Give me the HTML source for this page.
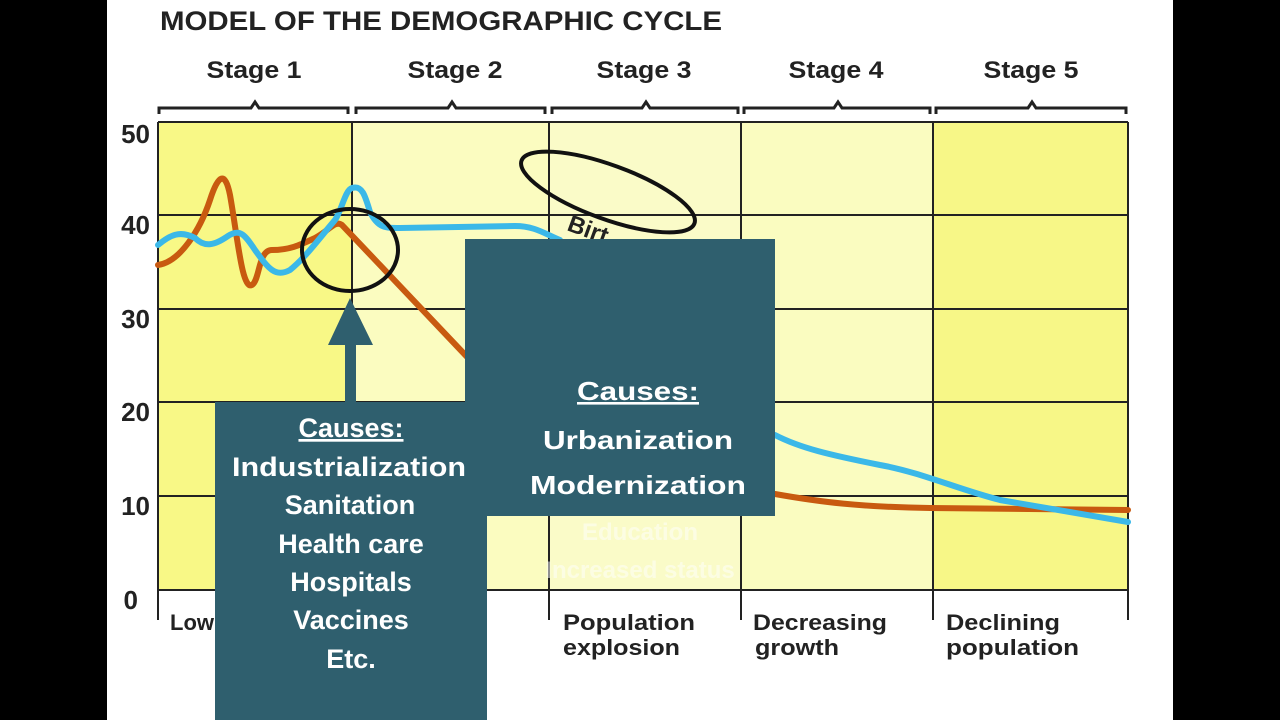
<!DOCTYPE html>
<html><head><style>body{margin:0;background:#000}svg{display:block}</style></head><body>
<svg width="1280" height="720" xmlns="http://www.w3.org/2000/svg" font-family="Liberation Sans, sans-serif">
<rect x="107" y="0" width="1066" height="720" fill="#fff"/>
<text x="160" y="30" font-size="27" font-weight="bold" fill="#222" textLength="562" lengthAdjust="spacingAndGlyphs">MODEL OF THE DEMOGRAPHIC CYCLE</text>
<g font-size="24" font-weight="bold" fill="#222" text-anchor="middle">
<text x="254" y="78" textLength="95" lengthAdjust="spacingAndGlyphs">Stage 1</text><text x="455" y="78" textLength="95" lengthAdjust="spacingAndGlyphs">Stage 2</text><text x="644" y="78" textLength="95" lengthAdjust="spacingAndGlyphs">Stage 3</text><text x="836" y="78" textLength="95" lengthAdjust="spacingAndGlyphs">Stage 4</text><text x="1031" y="78" textLength="95" lengthAdjust="spacingAndGlyphs">Stage 5</text>
</g>
<g fill="none" stroke="#222" stroke-width="3">
<path d="M159,114 v-6 h92 l4,-6 l4,6 h89 v6"/><path d="M356,114 v-6 h92 l4,-6 l4,6 h89 v6"/>
<path d="M552,114 v-6 h90 l4,-6 l4,6 h88 v6"/><path d="M744,114 v-6 h90 l4,-6 l4,6 h88 v6"/>
<path d="M936,114 v-6 h92 l4,-6 l4,6 h90 v6"/>
</g>
<rect x="158" y="122" width="194" height="468" fill="#f8f886"/>
<rect x="352" y="122" width="197" height="468" fill="#fbfcc0"/>
<rect x="549" y="122" width="192" height="468" fill="#fafbc8"/>
<rect x="741" y="122" width="192" height="468" fill="#fafcc0"/>
<rect x="933" y="122" width="195" height="468" fill="#f7f787"/>
<g stroke="#222" stroke-width="2">
<line x1="158" y1="122" x2="1128" y2="122"/><line x1="158" y1="215" x2="1128" y2="215"/>
<line x1="158" y1="309" x2="1128" y2="309"/><line x1="158" y1="402" x2="1128" y2="402"/>
<line x1="158" y1="496" x2="1128" y2="496"/><line x1="158" y1="590" x2="1128" y2="590"/>
<line x1="158" y1="122" x2="158" y2="620"/><line x1="352" y1="122" x2="352" y2="620"/>
<line x1="549" y1="122" x2="549" y2="620"/><line x1="741" y1="122" x2="741" y2="620"/>
<line x1="933" y1="122" x2="933" y2="620"/><line x1="1128" y1="122" x2="1128" y2="620"/>
</g>
<g font-size="26" font-weight="bold" fill="#222" text-anchor="end">
<text x="150" y="143">50</text><text x="150" y="234">40</text><text x="150" y="328">30</text><text x="150" y="421">20</text><text x="150" y="515">10</text><text x="138" y="609">0</text>
</g>
<g fill="none" stroke-width="6" stroke-linecap="round">
<path stroke="#c85a10" d="M158,265 C180,262 200,230 210,200 C218,175 225,170 230,195 C238,240 242,290 252,285 C260,280 258,250 272,250 C290,250 300,245 315,238 C330,230 335,220 342,225 L470,360"/>
<path stroke="#c85a10" d="M775,494 C820,502 860,507 930,508 L1128,510"/>
<path stroke="#3bb8e8" d="M158,245 C170,235 180,230 195,238 C205,248 215,245 228,236 C240,228 245,235 255,250 C268,268 275,278 290,270 C305,258 318,240 335,220 C342,210 345,190 352,188 C362,185 365,195 370,212 C378,228 385,228 400,228 L515,226 C535,226 545,234 560,240"/>
<path stroke="#3bb8e8" d="M775,435 C800,448 830,455 880,465 C920,472 960,490 1000,500 L1128,522"/>
</g>
<ellipse cx="350" cy="250" rx="48" ry="41" fill="none" stroke="#111" stroke-width="4"/>
<ellipse cx="608" cy="192" rx="92" ry="27" transform="rotate(20 608 192)" fill="none" stroke="#111" stroke-width="4"/>
<text x="566" y="230" font-size="24" font-weight="bold" fill="#222" transform="rotate(20 566 230)">Birt</text>
<path d="M592,240 v14 l4,-4 l4,6 l2,-1 l-3,-6 h5 z" fill="#fff" stroke="#000" stroke-width="1"/>
<path d="M350,298 L373,345 L356,345 L356,402 L345,402 L345,345 L328,345 Z" fill="#2f5f6e"/>
<rect x="215" y="402" width="272" height="318" fill="#2f5f6e"/>
<g font-size="27" font-weight="bold" fill="#fff" text-anchor="middle">
<text x="351" y="437" text-decoration="underline">Causes:</text>
<text x="349" y="476" textLength="234" lengthAdjust="spacingAndGlyphs">Industrialization</text>
<text x="350" y="514">Sanitation</text>
<text x="351" y="553">Health care</text>
<text x="351" y="591">Hospitals</text>
<text x="351" y="629">Vaccines</text>
<text x="351" y="668">Etc.</text>
</g>
<rect x="465" y="239" width="310" height="277" fill="#2f5f6e"/>
<g font-size="26" font-weight="bold" fill="#fff" text-anchor="middle">
<text x="638" y="400" text-decoration="underline" textLength="122" lengthAdjust="spacingAndGlyphs">Causes:</text>
<text x="638" y="449" textLength="190" lengthAdjust="spacingAndGlyphs">Urbanization</text>
<text x="638" y="494" textLength="216" lengthAdjust="spacingAndGlyphs">Modernization</text>
</g>
<g font-size="24" font-weight="bold" fill="#fff" opacity="0.5" text-anchor="middle">
<text x="640" y="540">Education</text><text x="640" y="578">Increased status</text>
</g>
<g font-size="22" font-weight="bold" fill="#222">
<text x="170" y="630">Low</text>
<text x="563" y="630" textLength="132" lengthAdjust="spacingAndGlyphs">Population</text><text x="563" y="655" textLength="117" lengthAdjust="spacingAndGlyphs">explosion</text>
<text x="753" y="630" textLength="134" lengthAdjust="spacingAndGlyphs">Decreasing</text><text x="755" y="655" textLength="84" lengthAdjust="spacingAndGlyphs">growth</text>
<text x="946" y="630" textLength="114" lengthAdjust="spacingAndGlyphs">Declining</text><text x="946" y="655" textLength="133" lengthAdjust="spacingAndGlyphs">population</text>
</g>
</svg>
</body></html>
